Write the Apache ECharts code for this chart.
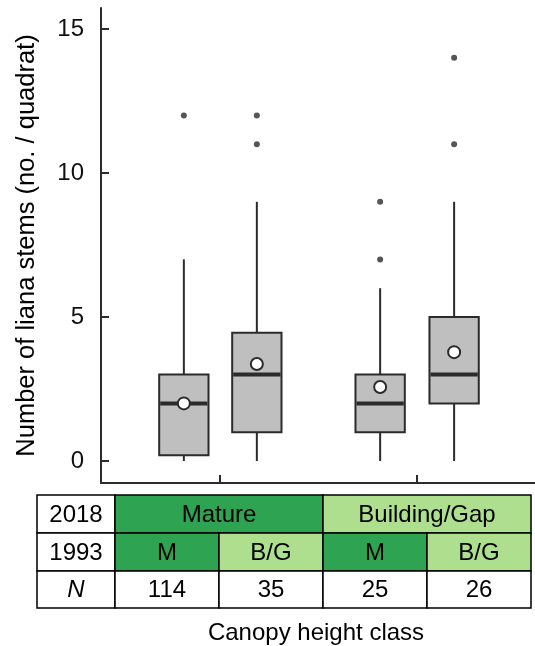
<!DOCTYPE html>
<html><head><meta charset="utf-8">
<script src="https://cdn.jsdelivr.net/npm/echarts@6/dist/echarts.min.js"></script>
<style>html,body{margin:0;padding:0;background:#fff}#c{width:535px;height:646px}</style>
</head><body><div id="c"></div>
<script>
// Data
var positions = [0.82, 1.19, 1.815, 2.19];
// [whiskerLow, Q1, median, Q3, whiskerHigh]
var boxStats = [
  [0, 0.2, 2, 3, 7],
  [0, 1, 3, 4.45, 9],
  [0, 1, 2, 3, 6],
  [0, 2, 3, 5, 9]
];
var means = [2.0, 3.37, 2.57, 3.78];
var outliers = [[12], [11, 12], [7, 9], [11, 14]];
var groupTicks = [1, 2];
var yTicks = [0, 5, 10, 15];
var row2018 = ['Mature', 'Building/Gap'];
var row1993 = ['M', 'B/G', 'M', 'B/G'];
var sampleN = ['114', '35', '25', '26'];
var yTitle = 'Number of liana stems (no. / quadrat)';
var xTitle = 'Canopy height class';

var dark = '#2ea352', light = '#aedf8f', ink = '#2b2b2b';
var font = '"Liberation Sans", Arial, sans-serif';

var boxData = boxStats.map(function (s, i) { return [positions[i]].concat(s); });
var meanData = means.map(function (m, i) { return [positions[i], m]; });
var outData = [];
outliers.forEach(function (arr, i) { arr.forEach(function (v) { outData.push([positions[i], v]); }); });

// Table graphics
var L = 37, colW = 104, firstW = 78, rowTop = 495, rowH = [38, 38, 37];
var g = [];
function cell(x, y, w, h, fill, text, italic) {
  g.push({ type: 'rect', shape: { x: x, y: y, width: w, height: h },
    style: { fill: fill, stroke: '#000', lineWidth: 1.5 }, z: 10 });
  g.push({ type: 'text', x: x + w / 2, y: y + h / 2 + 1, z: 11,
    style: { text: text, fill: '#000', font: (italic ? 'italic ' : '') + '24px ' + font,
      align: 'center', verticalAlign: 'middle' } });
}
var y0 = rowTop, y1 = rowTop + rowH[0], y2 = y1 + rowH[1];
var x0 = L + firstW;
cell(L, y0, firstW, rowH[0], '#fff', '2018');
cell(x0, y0, colW * 2, rowH[0], dark, row2018[0]);
cell(x0 + colW * 2, y0, colW * 2, rowH[0], light, row2018[1]);
cell(L, y1, firstW, rowH[1], '#fff', '1993');
row1993.forEach(function (t, i) { cell(x0 + colW * i, y1, colW, rowH[1], (t === 'M' ? dark : light), t); });
cell(L, y2, firstW, rowH[2], '#fff', 'N', true);
sampleN.forEach(function (t, i) { cell(x0 + colW * i, y2, colW, rowH[2], '#fff', t); });
g.push({ type: 'text', x: 316, y: 633, style: { text: xTitle, fill: '#000', font: '24px ' + font, align: 'center', verticalAlign: 'middle' } });

var chart = echarts.init(document.getElementById('c'), null, { renderer: 'canvas' });
chart.setOption({
  animation: false,
  backgroundColor: '#fff',
  grid: { left: 101, top: 8, width: 440, height: 475, containLabel: false },
  xAxis: {
    type: 'value', min: 0.4, max: 2.6,
    axisLine: { show: true, onZero: false, lineStyle: { color: ink, width: 2 } },
    axisTick: { show: true, inside: true, length: 8, customValues: groupTicks, lineStyle: { color: ink, width: 2 } },
    axisLabel: { show: false },
    splitLine: { show: false }
  },
  yAxis: {
    type: 'value', min: -0.764, max: 15.729,
    name: yTitle, nameLocation: 'middle', nameRotate: 90, nameGap: 61,
    nameTextStyle: { fontSize: 25.5, fontFamily: font, color: '#000' },
    axisLine: { show: true, onZero: false, lineStyle: { color: ink, width: 2 } },
    axisTick: { show: true, inside: true, length: 8, customValues: yTicks, lineStyle: { color: ink, width: 2 } },
    axisLabel: { customValues: yTicks, fontSize: 24, fontFamily: font, color: '#111', margin: 17 },
    splitLine: { show: false }
  },
  graphic: g,
  series: [
    {
      type: 'custom',
      data: boxData,
      encode: { x: 0, y: [1, 2, 3, 4, 5] },
      renderItem: function (params, api) {
        var x = api.value(0);
        var lo = api.coord([x, api.value(1)]);
        var q1 = api.coord([x, api.value(2)]);
        var md = api.coord([x, api.value(3)]);
        var q3 = api.coord([x, api.value(4)]);
        var hi = api.coord([x, api.value(5)]);
        var w = api.size([0.25, 0])[0];
        var st = { stroke: ink, lineWidth: 2, fill: null };
        return { type: 'group', children: [
          { type: 'line', shape: { x1: hi[0], y1: hi[1], x2: q3[0], y2: q3[1] }, style: st },
          { type: 'line', shape: { x1: lo[0], y1: lo[1], x2: q1[0], y2: q1[1] }, style: st },
          { type: 'rect', shape: { x: q3[0] - w / 2, y: q3[1], width: w, height: q1[1] - q3[1] },
            style: { fill: '#bfbfbf', stroke: ink, lineWidth: 2 } },
          { type: 'line', shape: { x1: md[0] - w / 2 + 1, y1: md[1], x2: md[0] + w / 2 - 1, y2: md[1] },
            style: { stroke: ink, lineWidth: 4 } }
        ] };
      },
      z: 2
    },
    {
      type: 'scatter', data: outData, symbol: 'circle', symbolSize: 6,
      itemStyle: { color: ink }, z: 3
    },
    {
      type: 'scatter', data: meanData, symbol: 'circle', symbolSize: 12,
      itemStyle: { color: '#fff', borderColor: ink, borderWidth: 2, opacity: 1 }, z: 4
    }
  ]
});
</script>
</body></html>
